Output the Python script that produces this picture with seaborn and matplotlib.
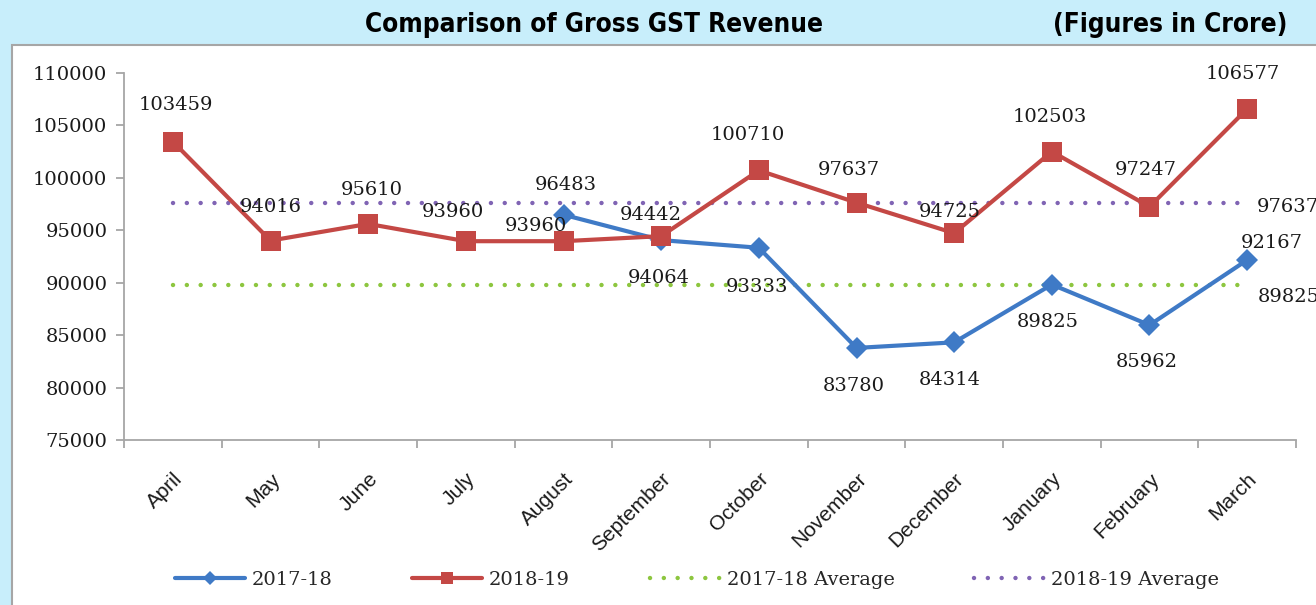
import numpy as np
import pandas as pd
import matplotlib
matplotlib.use('Agg')
import matplotlib.pyplot as plt
import matplotlib.transforms as mtransforms
from matplotlib.patches import Rectangle
import seaborn as sns

## Data
months   = ['April','May','June','July','August','September','October',
            'November','December','January','February','March']
gst_1718 = [np.nan,np.nan,np.nan,np.nan,96483,94064,93333,83780,84314,89825,85962,92167]
gst_1819 = [103459,94016,95610,93960,93960,94442,100710,97637,94725,102503,97247,106577]
avg_1718 = 89825
avg_1819 = 97637

## Style
sns.set_theme(style='white')
plt.rcParams['font.family'] = ['DejaVu Serif']
bg_blue  = '#C8EEFB'
c_blue   = '#3F7AC6'
c_red    = '#C44845'
c_green  = '#8DC63F'
c_purple = '#8064B4'
txt_col  = '#1A1A1A'

# label offsets in pixels (dx, dy), screen y up
off_1819 = [(3,37),(0,34),(4,34),(-13,29),(-28,15),(-10,21),(-11,35),
            (-8,33),(-4,21),(-2,35),(-4,37),(-4,35)]
off_1718 = [None,None,None,None,(2,30),(-2,-38),(-2,-39),(-3,-38),
            (-4,-38),(-4,-37),(-3,-37),(25,17)]

W, H = 1316, 605
fig = plt.figure(figsize=(W/100, H/100), dpi=100, facecolor=bg_blue)

# white chart panel
fig.patches.append(Rectangle((12/W, -0.01), 1.0, (H-45)/H+0.01, transform=fig.transFigure,
                             facecolor='white', edgecolor='#A6A6A6', lw=1.5, zorder=-5))

title_font = dict(family=['DejaVu Sans'], fontstretch='condensed', fontweight='bold',
                  fontsize=18.8, color='black')
fig.text(594/W, 1-25/H, 'Comparison of Gross GST Revenue', ha='center', va='center', **title_font)
fig.text(1287/W, 1-25/H, '(Figures in Crore)', ha='right', va='center', **title_font)

ax = fig.add_axes([124/W, 1-440/H, 1172/W, (440-73)/H])
ax.set_facecolor('none')

pos = np.arange(len(months))
df = pd.DataFrame({'pos': np.concatenate([pos, pos]),
                   'value': gst_1718 + gst_1819,
                   'series': ['2017-18']*len(months) + ['2018-19']*len(months)}).dropna()

d1 = df[df.series == '2017-18']
d2 = df[df.series == '2018-19']
sns.lineplot(data=d1, x='pos', y='value', ax=ax, color=c_blue, lw=3, marker='D',
             markersize=11, markeredgewidth=0, label='2017-18', zorder=4)
sns.lineplot(data=d2, x='pos', y='value', ax=ax, color=c_red, lw=3, marker='s',
             markersize=14, markeredgewidth=0, label='2018-19', zorder=5)
sns.lineplot(x=pos, y=[avg_1718]*len(months), ax=ax, color=c_green, lw=3.2,
             linestyle=(0,(0.01,3.1)), dash_capstyle='round', label='2017-18 Average', zorder=2)
sns.lineplot(x=pos, y=[avg_1819]*len(months), ax=ax, color=c_purple, lw=3.2,
             linestyle=(0,(0.01,3.1)), dash_capstyle='round', label='2018-19 Average', zorder=2)

# data labels
for i, v in enumerate(gst_1819):
    dx, dy = off_1819[i]
    ax.annotate(str(v), (pos[i], v), xytext=(dx*0.72, dy*0.72), textcoords='offset points',
                ha='center', va='center', fontsize=14, color=txt_col, zorder=6)
for i, v in enumerate(gst_1718):
    if off_1718[i] is None or np.isnan(v):
        continue
    dx, dy = off_1718[i]
    ax.annotate(str(int(v)), (pos[i], v), xytext=(dx*0.72, dy*0.72), textcoords='offset points',
                ha='center', va='center', fontsize=14, color=txt_col, zorder=6)
ax.annotate(str(avg_1819), (pos[-1], avg_1819), xytext=(10*0.72, -4*0.72), textcoords='offset points',
            ha='left', va='center', fontsize=14, color=txt_col, annotation_clip=False)
ax.annotate(str(avg_1718), (pos[-1], avg_1718), xytext=(11*0.72, -12*0.72), textcoords='offset points',
            ha='left', va='center', fontsize=14, color=txt_col, annotation_clip=False)

## Axes customization
ax.set_xlim(-0.5, len(months)-0.5)
ax.set_ylim(75000, 110000)
ax.set_yticks(np.arange(75000, 110001, 5000))
ax.set_yticklabels([str(t) for t in range(75000, 110001, 5000)], fontsize=14, color=txt_col)
ax.set_xticks(pos)
ax.set_xticklabels(months, rotation=45, ha='right', rotation_mode='anchor',
                   family=['Liberation Sans','DejaVu Sans'], fontsize=15, color=txt_col)
shift = mtransforms.ScaledTranslation(-14/100, 0, fig.dpi_scale_trans)
for lab in ax.get_xticklabels():
    lab.set_transform(lab.get_transform() + shift)
ax.set_xticks(np.arange(-0.5, len(months), 1), minor=True)
ax.tick_params(axis='x', which='major', length=0, pad=21)
ax.tick_params(axis='x', which='minor', length=6, width=1.3, color='#A6A6A6', direction='out', bottom=True)
ax.tick_params(axis='y', length=6, width=1.3, color='#A6A6A6', direction='out', left=True, pad=6)
ax.set_xlabel('')
ax.set_ylabel('')
for s in ['top','right']:
    ax.spines[s].set_visible(False)
for s in ['left','bottom']:
    ax.spines[s].set_color('#A6A6A6')
    ax.spines[s].set_linewidth(1.3)

handles, labels = ax.get_legend_handles_labels()
ax.get_legend().remove()
fig.legend(handles, labels, loc='center', bbox_to_anchor=(697/W, 1-580/H), ncol=4, frameon=False,
           fontsize=14, handlelength=3.6, handletextpad=0.35, columnspacing=4.1, markerscale=0.65)

fig.savefig('out.png', dpi=100, facecolor=bg_blue)
